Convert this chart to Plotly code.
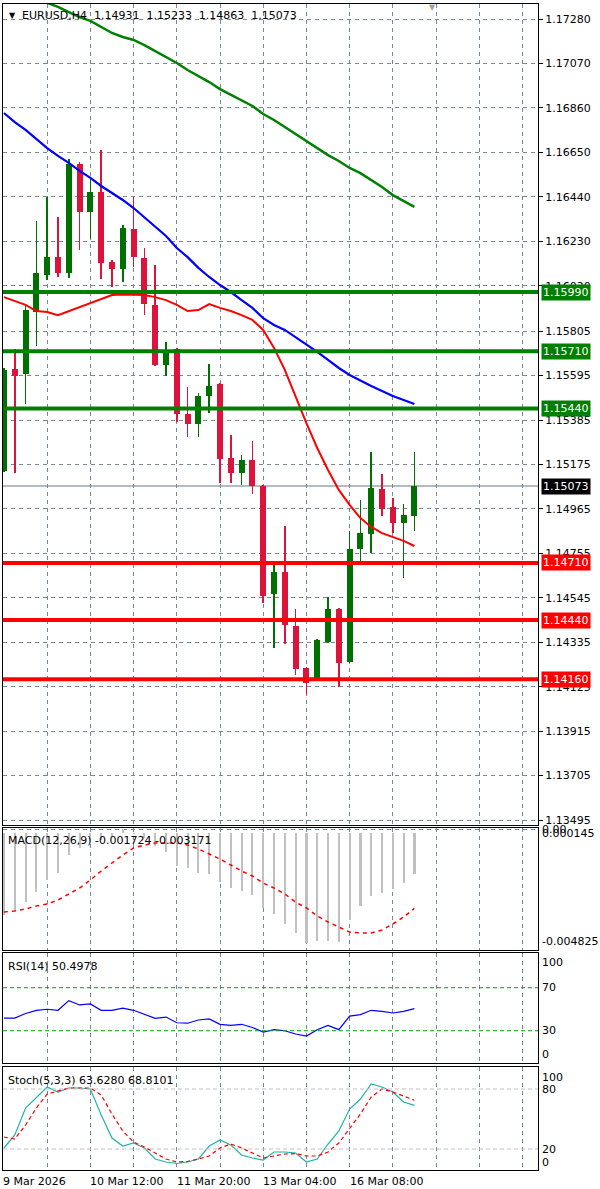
import plotly.graph_objects as go

# ---------------- data ----------------
bars = list(range(39))

open_ = [1.15144, 1.15626, 1.15603, 1.15896, 1.16070, 1.16155, 1.16080, 1.16595, 1.16368, 1.16463,
         1.16132, 1.16099, 1.16288, 1.16151, 1.15929, 1.15645, 1.15721, 1.15414, 1.15366, 1.15499,
         1.15555, 1.15206, 1.15135, 1.15196, 1.15073, 1.14563, 1.14667, 1.14412, 1.14213, 1.14162,
         1.14336, 1.14492, 1.14242, 1.14776, 1.14847, 1.15059, 1.14974, 1.14899, 1.14931]
high = [1.15631, 1.15721, 1.15924, 1.16326, 1.16439, 1.16344, 1.16619, 1.16604, 1.16533, 1.16661,
        1.16141, 1.16307, 1.16439, 1.16198, 1.16118, 1.15754, 1.15726, 1.15541, 1.15513, 1.15650,
        1.15560, 1.15314, 1.15220, 1.15286, 1.15078, 1.14705, 1.14884, 1.14492, 1.14218, 1.14351,
        1.14549, 1.14497, 1.14861, 1.15007, 1.15234, 1.15130, 1.15017, 1.14988, 1.15233]
low = [1.15140, 1.15135, 1.15461, 1.15735, 1.16047, 1.16061, 1.16056, 1.16189, 1.16241, 1.16052,
       1.16014, 1.16037, 1.16108, 1.15881, 1.15640, 1.15593, 1.15376, 1.15305, 1.15305, 1.15418,
       1.15088, 1.15088, 1.15078, 1.15036, 1.14521, 1.14308, 1.14327, 1.14180, 1.14086, 1.14152,
       1.14332, 1.14124, 1.14237, 1.14705, 1.14757, 1.14932, 1.14851, 1.14639, 1.14863]
close = [1.15622, 1.15593, 1.15905, 1.16080, 1.16155, 1.16080, 1.16595, 1.16368, 1.16463, 1.16127,
         1.16099, 1.16293, 1.16155, 1.15933, 1.15645, 1.15716, 1.15414, 1.15366, 1.15499, 1.15546,
         1.15201, 1.15135, 1.15196, 1.15073, 1.14554, 1.14667, 1.14417, 1.14209, 1.14143, 1.14346,
         1.14492, 1.14237, 1.14776, 1.14851, 1.15064, 1.14965, 1.14899, 1.14936, 1.15073]

ma_red = [1.15966, 1.15948, 1.15929, 1.15900, 1.15896, 1.15881, 1.15900, 1.15919, 1.15938, 1.15957,
          1.15976, 1.15978, 1.15978, 1.15976, 1.15966, 1.15952, 1.15929, 1.15900, 1.15905, 1.15933,
          1.15915, 1.15900, 1.15881, 1.15858, 1.15811, 1.15726, 1.15622, 1.15494, 1.15371, 1.15253,
          1.15149, 1.15055, 1.14984, 1.14922, 1.14880, 1.14851, 1.14832, 1.14814, 1.14790]
ma_blue = [1.16836, 1.16793, 1.16756, 1.16713, 1.16670, 1.16633, 1.16600, 1.16562, 1.16529, 1.16491,
           1.16458, 1.16425, 1.16387, 1.16344, 1.16302, 1.16255, 1.16198, 1.16155, 1.16104, 1.16061,
           1.16023, 1.15990, 1.15952, 1.15915, 1.15867, 1.15834, 1.15811, 1.15777, 1.15740, 1.15707,
           1.15669, 1.15631, 1.15598, 1.15570, 1.15546, 1.15522, 1.15499, 1.15480, 1.15461]
ma_green = [1.17436, 1.17417, 1.17393, 1.17370, 1.17356, 1.17337, 1.17313, 1.17289, 1.17271, 1.17242,
            1.17214, 1.17195, 1.17181, 1.17157, 1.17129, 1.17100, 1.17072, 1.17039, 1.17011, 1.16982,
            1.16949, 1.16921, 1.16893, 1.16869, 1.16831, 1.16803, 1.16770, 1.16737, 1.16704, 1.16670,
            1.16637, 1.16609, 1.16576, 1.16552, 1.16519, 1.16486, 1.16448, 1.16420, 1.16392]

macd_hist = [-0.003446, -0.003278, -0.002903, -0.002485, -0.001984, -0.001691, -0.000940, -0.000647,
             -0.000350, -0.000300, -0.000200, 0.000145, -0.000050, -0.000250, -0.000564, -0.000814,
             -0.001399, -0.001483, -0.001691, -0.001733, -0.002067, -0.002318, -0.002443, -0.002610,
             -0.003153, -0.003404, -0.003821, -0.004197, -0.004615, -0.004531, -0.004531, -0.004573,
             -0.003654, -0.003070, -0.002652, -0.002527, -0.002360, -0.002109, -0.001724]
macd_signal = [-0.003320, -0.003278, -0.003195, -0.003070, -0.002986, -0.002819, -0.002568, -0.002318,
               -0.001984, -0.001608, -0.001274, -0.000940, -0.000647, -0.000522, -0.000439, -0.000439,
               -0.000439, -0.000522, -0.000689, -0.000898, -0.001107, -0.001357, -0.001608, -0.001817,
               -0.002109, -0.002318, -0.002568, -0.002903, -0.003153, -0.003487, -0.003738, -0.003947,
               -0.004156, -0.004197, -0.004197, -0.004072, -0.003821, -0.003529, -0.003171]

rsi = [41.8, 41.8, 46.0, 49.0, 50.0, 49.0, 58.0, 54.0, 55.0, 49.0, 49.0, 51.0, 49.0, 45.0, 41.5,
       42.7, 37.4, 37.0, 40.0, 41.0, 36.0, 35.0, 36.0, 33.0, 28.8, 31.0, 30.0, 27.0, 25.0, 31.0,
       35.0, 31.0, 43.6, 45.0, 49.0, 48.0, 46.5, 48.0, 50.4978]

stoch_k = [21, 34, 61, 72, 82, 77, 81, 81, 80, 54, 31, 23, 26, 21, 10, 7, 5.5, 7, 10, 23, 29, 24,
           14, 11, 9, 17, 17, 16, 7, 10, 25, 38, 60, 70, 85, 82, 77, 67, 63.628]
stoch_d = [32, 30, 44, 61, 75, 78, 81, 81, 81, 74, 55, 38, 27, 22, 16, 10, 7, 7.5, 10, 13, 21, 25,
           21, 16, 11, 13, 15, 15.4, 13, 13, 17, 26, 41, 55, 72, 80, 77, 73, 68.8101]

resistance_levels = [1.15990, 1.15710, 1.15440]
support_levels = [1.14710, 1.14440, 1.14160]
last_price = 1.15073

price_ticks = [1.17280, 1.17070, 1.16860, 1.16650, 1.16440, 1.16230, 1.16020, 1.15805, 1.15595,
               1.15385, 1.15175, 1.14965, 1.14755, 1.14545, 1.14335, 1.14125, 1.13915, 1.13705, 1.13495]
time_labels = ["9 Mar 2026", "10 Mar 12:00", "11 Mar 20:00", "13 Mar 04:00", "16 Mar 08:00"]
time_label_bars = [0, 8, 16, 24, 32]

header = "EURUSD,H4  1.14931  1.15233  1.14863  1.15073"
macd_title = "MACD(12,26,9) -0.001724 -0.003171"
rsi_title = "RSI(14) 50.4978"
stoch_title = "Stoch(5,3,3) 63.6280 68.8101"

# ---------------- layout geometry ----------------
W, H = 600, 1189
ML, MR, MT, MB = 3, 62, 4, 19
PW = W - ML - MR
PH = H - MT - MB


def py(pix):
    return (H - MB - pix) / PH


def px(pix):
    return (pix - ML) / PW


FONT = "DejaVu Sans"
GRID = "#778899"
BULL = "#007000"
BEAR = "#dc143c"

fig = go.Figure()

# candles
colors = [BULL if c >= o else BEAR for o, c in zip(open_, close)]
fig.add_trace(go.Bar(x=bars, y=[h - l for h, l in zip(high, low)], base=low, width=0.14,
                     marker=dict(color=colors, line=dict(width=0)), xaxis="x", yaxis="y"))
fig.add_trace(go.Bar(x=bars, y=[max(abs(c - o), 0.00003) for o, c in zip(open_, close)],
                     base=[min(o, c) for o, c in zip(open_, close)], width=0.56,
                     marker=dict(color=colors, line=dict(width=0)), xaxis="x", yaxis="y"))
# moving averages
fig.add_trace(go.Scatter(x=bars, y=ma_green, mode="lines", line=dict(color="#008000", width=2.5),
                         xaxis="x", yaxis="y"))
fig.add_trace(go.Scatter(x=bars, y=ma_blue, mode="lines", line=dict(color="#0000ff", width=2.2),
                         xaxis="x", yaxis="y"))
fig.add_trace(go.Scatter(x=bars, y=ma_red, mode="lines", line=dict(color="#ff0000", width=2),
                         xaxis="x", yaxis="y"))
# MACD
fig.add_trace(go.Bar(x=bars, y=macd_hist, base=0, width=0.2,
                     marker=dict(color="#c0c0c0", line=dict(width=0)), xaxis="x2", yaxis="y2"))
fig.add_trace(go.Scatter(x=bars, y=macd_signal, mode="lines",
                         line=dict(color="#ff0000", width=1.5, dash="4px,4px"), xaxis="x2", yaxis="y2"))
# RSI
fig.add_trace(go.Scatter(x=bars, y=rsi, mode="lines", line=dict(color="#0000ff", width=1.2),
                         xaxis="x3", yaxis="y3"))
# Stochastic
fig.add_trace(go.Scatter(x=bars, y=stoch_k, mode="lines", line=dict(color="#20b2aa", width=1.2),
                         xaxis="x4", yaxis="y4"))
fig.add_trace(go.Scatter(x=bars, y=stoch_d, mode="lines",
                         line=dict(color="#ff0000", width=1.2, dash="4px,3px"), xaxis="x4", yaxis="y4"))

x_range = [-0.09, 49.44]
xcommon = dict(range=x_range, tickmode="array", tickvals=list(range(4, 50, 4)), showticklabels=False,
               ticks="", showgrid=True, gridcolor=GRID, gridwidth=1, griddash="4px,4px", zeroline=False,
               showline=True, mirror=True, linecolor="black", linewidth=1, fixedrange=True)

ycommon = dict(side="right", zeroline=False, showline=True, mirror=True, linecolor="black",
               linewidth=1, fixedrange=True, gridcolor=GRID, gridwidth=1, griddash="4px,4px")

fig.update_layout(
    width=W, height=H, autosize=False,
    margin=dict(l=ML, r=MR, t=MT, b=MB),
    paper_bgcolor="white", plot_bgcolor="white",
    showlegend=False, hovermode=False, barmode="overlay", bargap=0,
    font=dict(family=FONT, size=11, color="black"),
    xaxis=dict(**xcommon, anchor="y"),
    xaxis2=dict(**xcommon, anchor="y2", matches="x"),
    xaxis3=dict(**xcommon, anchor="y3", matches="x"),
    xaxis4=dict(**xcommon, anchor="y4", matches="x"),
    yaxis=dict(**ycommon, domain=[py(825), 1.0], range=[1.134717, 1.173509], anchor="x",
               tickmode="array", tickvals=price_ticks, ticktext=[f"{v:.5f}" for v in price_ticks],
               ticks="outside", ticklen=4, tickcolor="black", showgrid=True,
               tickfont=dict(family=FONT, size=11, color="black")),
    yaxis2=dict(**ycommon, domain=[py(950), py(828)], range=[-0.004907, 0.000188], anchor="x2",
                tickmode="array", tickvals=[0.000145], showticklabels=False, ticks="", showgrid=True),
    yaxis3=dict(**ycommon, domain=[py(1063), py(953)], range=[0, 102.3], anchor="x3",
                tickmode="array", tickvals=[], showticklabels=False, ticks="", showgrid=False),
    yaxis4=dict(**ycommon, domain=[0.0, py(1067)], range=[-1, 102], anchor="x4",
                tickmode="array", tickvals=[], showticklabels=False, ticks="", showgrid=False),
)

shapes = []
for lv in resistance_levels:
    shapes.append(dict(type="line", xref="x domain", x0=0, x1=1, yref="y", y0=lv, y1=lv,
                       line=dict(color="#008000", width=4)))
for lv in support_levels:
    shapes.append(dict(type="line", xref="x domain", x0=0, x1=1, yref="y", y0=lv, y1=lv,
                       line=dict(color="#ff0000", width=4)))
shapes.append(dict(type="line", xref="x domain", x0=0, x1=1, yref="y", y0=last_price, y1=last_price,
                   line=dict(color="#9aa3ad", width=1.5), layer="below"))
for lv in (70, 30):
    shapes.append(dict(type="line", xref="x3 domain", x0=0, x1=1, yref="y3", y0=lv, y1=lv,
                       line=dict(color="#00a000", width=1, dash="4px,3px")))
for lv in (80, 20):
    shapes.append(dict(type="line", xref="x4 domain", x0=0, x1=1, yref="y4", y0=lv, y1=lv,
                       line=dict(color="#c0c0c0", width=1, dash="4px,3px")))
fig.update_layout(shapes=shapes)

ann = []


def text_ann(x, y, text, xref="paper", yref="paper", color="black", size=11, xanchor="left",
             yanchor="middle", bg=None, xshift=0, yshift=0, pad=0):
    d = dict(x=x, y=y, xref=xref, yref=yref, text=text, showarrow=False, xanchor=xanchor,
             yanchor=yanchor, font=dict(family=FONT, size=size, color=color), xshift=xshift,
             yshift=yshift, borderpad=pad)
    if bg:
        d["bgcolor"] = bg
    ann.append(d)


# panel titles
text_ann(px(8), py(16), "▼", size=8)
text_ann(px(21), py(16), header)
text_ann(px(428), py(8), "▼", color="#a0a0a0", size=8)
text_ann(px(7), py(840), macd_title)
text_ann(px(7), py(966), rsi_title)
text_ann(px(7), py(1080), stoch_title)

# level labels on the price axis
for lv in resistance_levels:
    text_ann(1, lv, f"{lv:.5f}", yref="y", color="white", bg="#008000", xshift=3, pad=1)
for lv in support_levels:
    text_ann(1, lv, f"{lv:.5f}", yref="y", color="white", bg="#ff0000", xshift=3, pad=1)
text_ann(1, last_price, f"{last_price:.5f}", yref="y", color="white", bg="#000000", xshift=3, pad=1)

# sub-window scale labels
text_ann(1, 0.000145, "0.000145", yref="y2", xshift=3, yshift=-4)
text_ann(1, 0.0, "0.00", yref="y2", xshift=3, yshift=3)
text_ann(1, -0.004825, "-0.004825", yref="y2", xshift=3, yshift=7)
text_ann(1, 100, "100", yref="y3", xshift=3, yshift=-7)
text_ann(1, 70, "70", yref="y3", xshift=3)
text_ann(1, 30, "30", yref="y3", xshift=3)
text_ann(1, 0, "0", yref="y3", xshift=3, yshift=9)
text_ann(1, 100, "100", yref="y4", xshift=3, yshift=-8)
text_ann(1, 80, "80", yref="y4", xshift=3)
text_ann(1, 20, "20", yref="y4", xshift=3)
text_ann(1, 0, "0", yref="y4", xshift=3, yshift=7)

# time labels
for b, t in zip(time_label_bars, time_labels):
    text_ann(b, py(1181), t, xref="x4", xshift=-2 if b == 0 else -1)

fig.update_layout(annotations=ann)

fig.write_html(
    "out.html",
    config={"displayModeBar": False, "staticPlot": True},
    post_script="document.body.style.margin='0';document.body.style.padding='0';"
                "document.body.style.overflow='hidden';",
)
